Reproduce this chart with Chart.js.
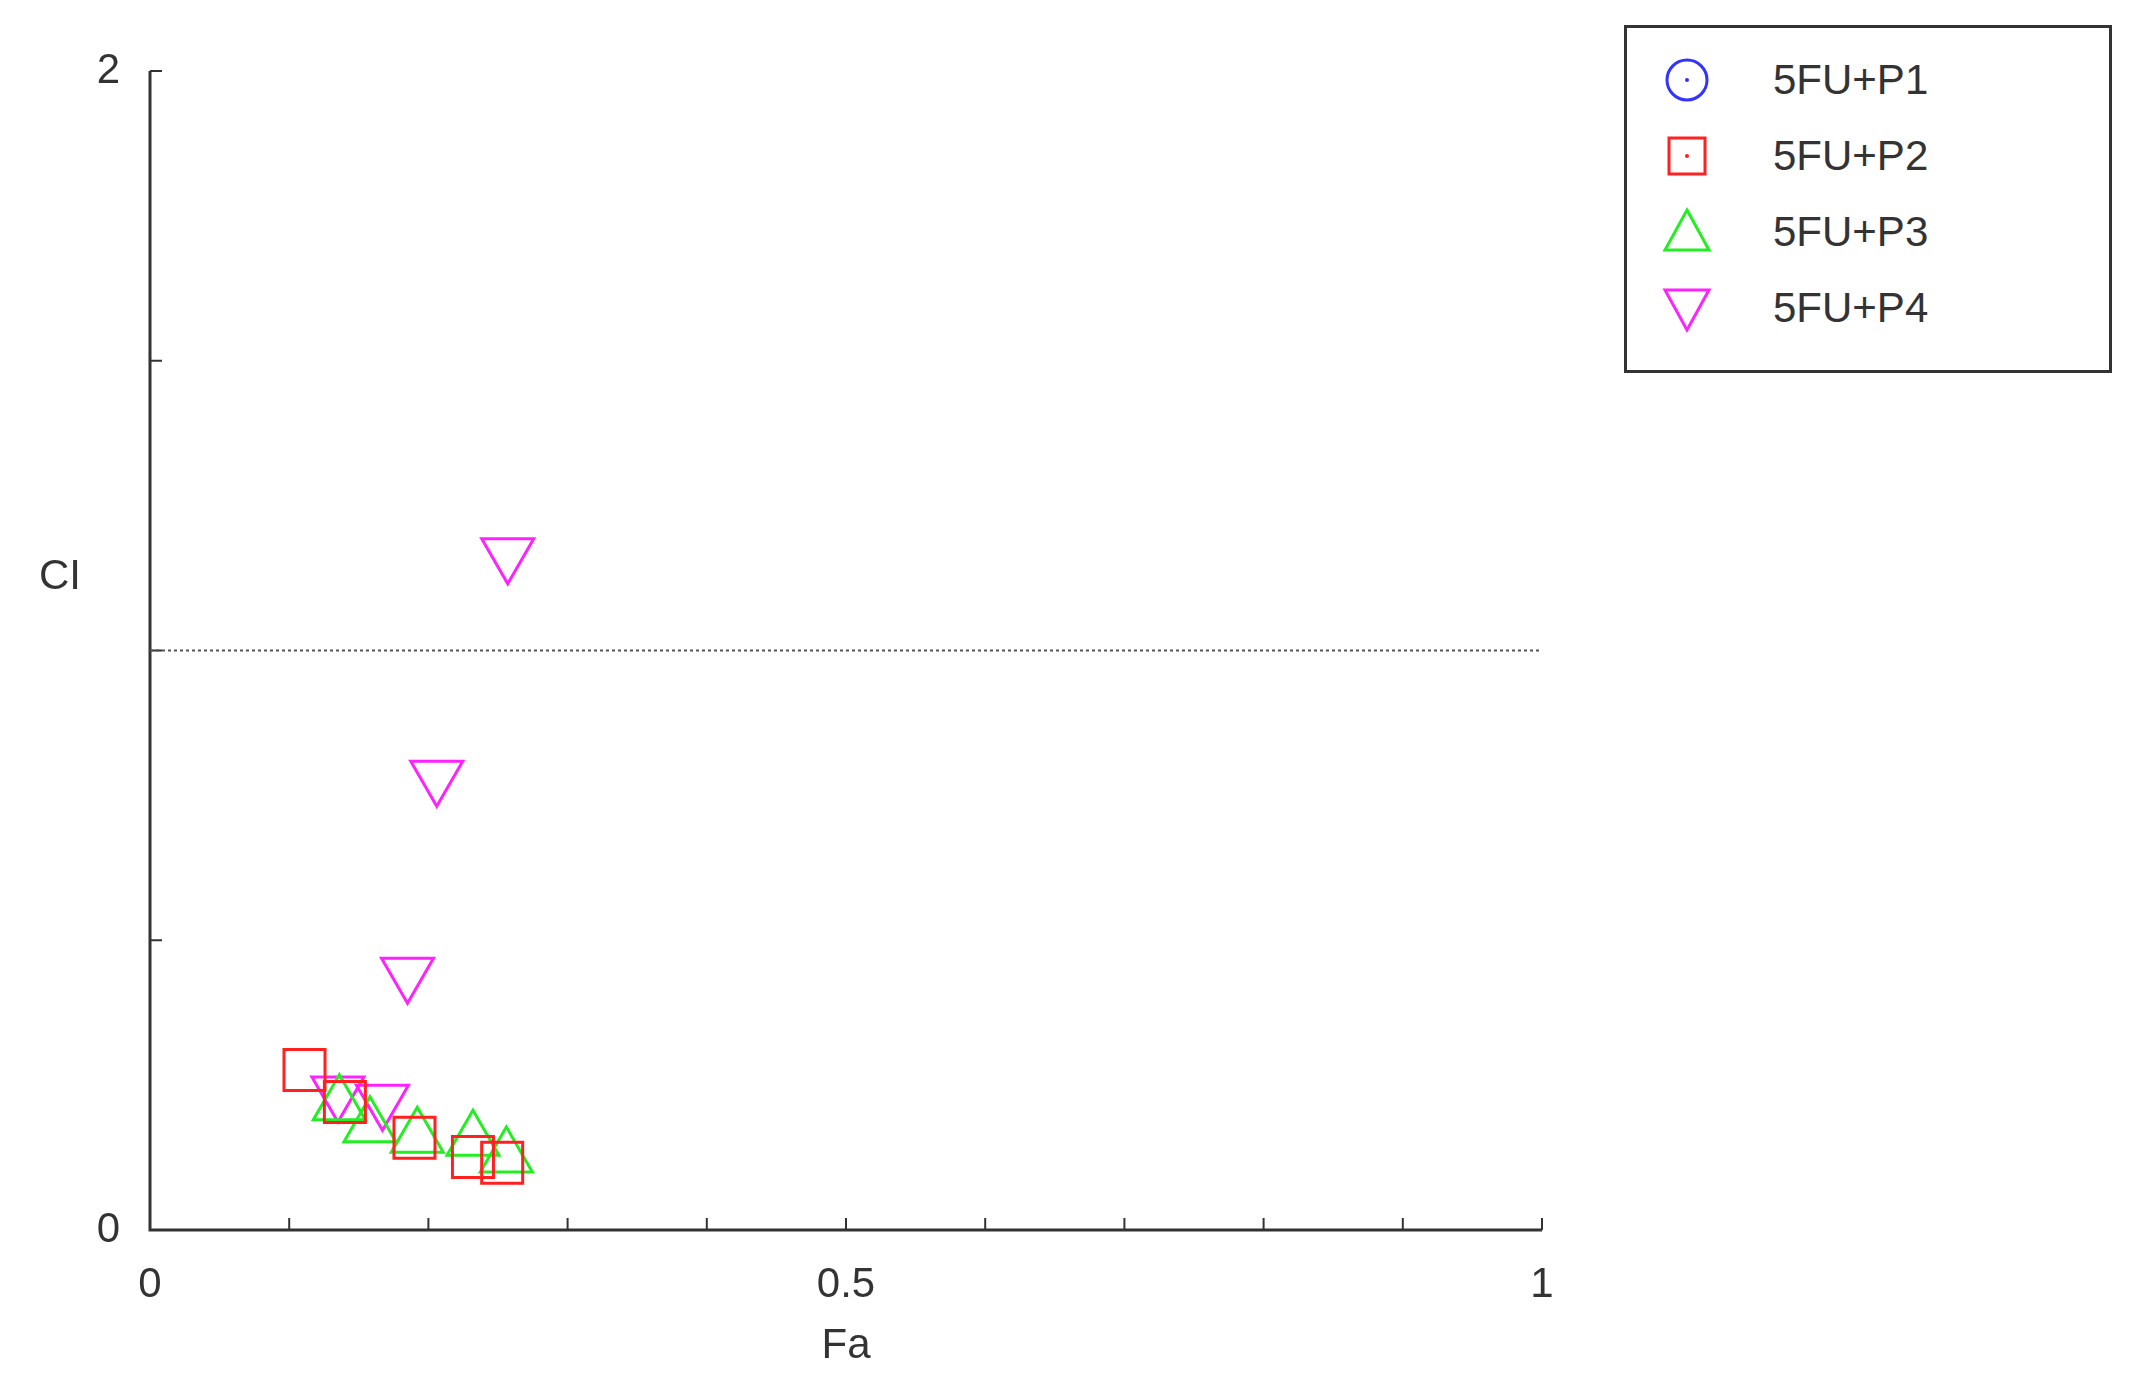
<!DOCTYPE html>
<html>
<head>
<meta charset="utf-8">
<script src="https://cdn.jsdelivr.net/npm/chart.js@4"></script>
<style>
  body { margin: 0; background: #fff; font-family: "Liberation Sans", Arial, sans-serif; }
  #wrap { position: relative; width: 2132px; height: 1391px; }
  #legend {
    position: absolute; left: 1624px; top: 25px; width: 488px; height: 348px;
    border: 3px solid #333; box-sizing: border-box; background: #fff;
  }
  .item { position: absolute; left: 30px; height: 60px; display: flex; align-items: center; font-size: 42px; color: #333; }
  .item svg { width: 60px; height: 60px; margin-right: 56px; }
</style>
</head>
<body>
<div id="wrap">
  <canvas id="c" width="2132" height="1391"></canvas>
  <div id="legend"></div>
</div>
<script>
// series data (Fa, CI)
const seriesNames = ['5FU+P1', '5FU+P2', '5FU+P3', '5FU+P4'];
const seriesColors = ['#3333ff', '#ff2020', '#22ee22', '#ff22ff'];
const p1Fa = [];
const p1CI = [];
const p2Fa = [0.111, 0.140, 0.190, 0.232, 0.253];
const p2CI = [0.276, 0.221, 0.159, 0.126, 0.116];
const p3Fa = [0.136, 0.158, 0.192, 0.232, 0.256];
const p3CI = [0.216, 0.178, 0.160, 0.155, 0.126];
const p4Fa = [0.135, 0.167, 0.185, 0.206, 0.257];
const p4CI = [0.238, 0.224, 0.443, 0.783, 1.167];
const xTickLabels = [0, 0.5, 1];
const yTickLabels = [0, 2];

const toPts = (xs, ys) => xs.map((x, i) => ({ x: x, y: ys[i] }));
const styles = ['circle', 'rect', 'triangle', 'triangle'];
const rotations = [0, 0, 0, 180];
const allData = [toPts(p1Fa, p1CI), toPts(p2Fa, p2CI), toPts(p3Fa, p3CI), toPts(p4Fa, p4CI)];

// matlab-ish inward ticks, dotted CI=1 line and axis titles
const extras = {
  id: 'extras',
  afterDraw(chart) {
    const ctx = chart.ctx, xs = chart.scales.x, ys = chart.scales.y, a = chart.chartArea;
    ctx.save();
    ctx.strokeStyle = '#333';
    ctx.lineWidth = 3;
    ctx.beginPath();
    ctx.moveTo(a.left, a.top); ctx.lineTo(a.left, a.bottom); ctx.lineTo(a.right, a.bottom);
    ctx.stroke();
    ctx.lineWidth = 2;
    for (let v = 0.1; v <= 1.0001; v += 0.1) {
      const px = xs.getPixelForValue(v);
      ctx.beginPath(); ctx.moveTo(px, a.bottom); ctx.lineTo(px, a.bottom - 12); ctx.stroke();
    }
    for (let v = 0.5; v <= 2.0001; v += 0.5) {
      const py = ys.getPixelForValue(v);
      ctx.beginPath(); ctx.moveTo(a.left, py); ctx.lineTo(a.left + 12, py); ctx.stroke();
    }
    ctx.setLineDash([3, 3]);
    ctx.strokeStyle = '#555';
    const y1 = ys.getPixelForValue(1);
    ctx.beginPath(); ctx.moveTo(a.left, y1); ctx.lineTo(a.right, y1); ctx.stroke();
    ctx.setLineDash([]);
    ctx.fillStyle = '#333';
    ctx.font = '42px "Liberation Sans", Arial, sans-serif';
    ctx.textAlign = 'center';
    ctx.textBaseline = 'middle';
    ctx.fillText('CI', 60, 577);
    ctx.fillText('Fa', (a.left + a.right) / 2, 1346);
    ctx.restore();
  }
};

new Chart(document.getElementById('c'), {
  type: 'scatter',
  data: {
    datasets: seriesNames.map((n, i) => ({
      label: n,
      data: allData[i],
      pointStyle: styles[i],
      rotation: rotations[i],
      pointRadius: i === 1 ? 29 : 30,
      pointBorderWidth: 3,
      borderColor: seriesColors[i],
      backgroundColor: 'rgba(0,0,0,0)',
      pointHoverRadius: 30
    }))
  },
  options: {
    responsive: false,
    animation: false,
    layout: { padding: { top: 71, right: 590, left: 0, bottom: 0 } },
    plugins: { legend: { display: false }, tooltip: { enabled: false } },
    scales: {
      x: {
        type: 'linear', min: 0, max: 1,
        afterFit: s => { s.height = 161; },
        afterBuildTicks: s => { s.ticks = xTickLabels.map(v => ({ value: v })); },
        grid: { display: false },
        border: { display: false },
        ticks: { color: '#333', font: { size: 42 }, padding: 22, maxRotation: 0,
          callback: v => String(v) }
      },
      y: {
        type: 'linear', min: 0, max: 2,
        afterFit: s => { s.width = 150; },
        afterBuildTicks: s => { s.ticks = yTickLabels.map(v => ({ value: v })); },
        grid: { display: false },
        border: { display: false },
        ticks: { color: '#333', font: { size: 42 }, padding: 22, callback: v => String(v) }
      }
    }
  },
  plugins: [extras]
});

// legend
const legend = document.getElementById('legend');
const icons = [
  c => `<circle cx="30" cy="30" r="20" fill="none" stroke="${c}" stroke-width="3"/><circle cx="30" cy="30" r="2" fill="${c}"/>`,
  c => `<rect x="12" y="12" width="36" height="36" fill="none" stroke="${c}" stroke-width="3"/><circle cx="30" cy="30" r="2" fill="${c}"/>`,
  c => `<polygon points="30,8 52,48 8,48" fill="none" stroke="${c}" stroke-width="3"/>`,
  c => `<polygon points="8,12 52,12 30,52" fill="none" stroke="${c}" stroke-width="3"/>`
];
seriesNames.forEach((n, i) => {
  const d = document.createElement('div');
  d.className = 'item';
  d.style.top = (22 + i * 76) + 'px';
  d.innerHTML = `<svg viewBox="0 0 60 60">${icons[i](seriesColors[i])}</svg><span>${n}</span>`;
  legend.appendChild(d);
});
</script>
</body>
</html>
